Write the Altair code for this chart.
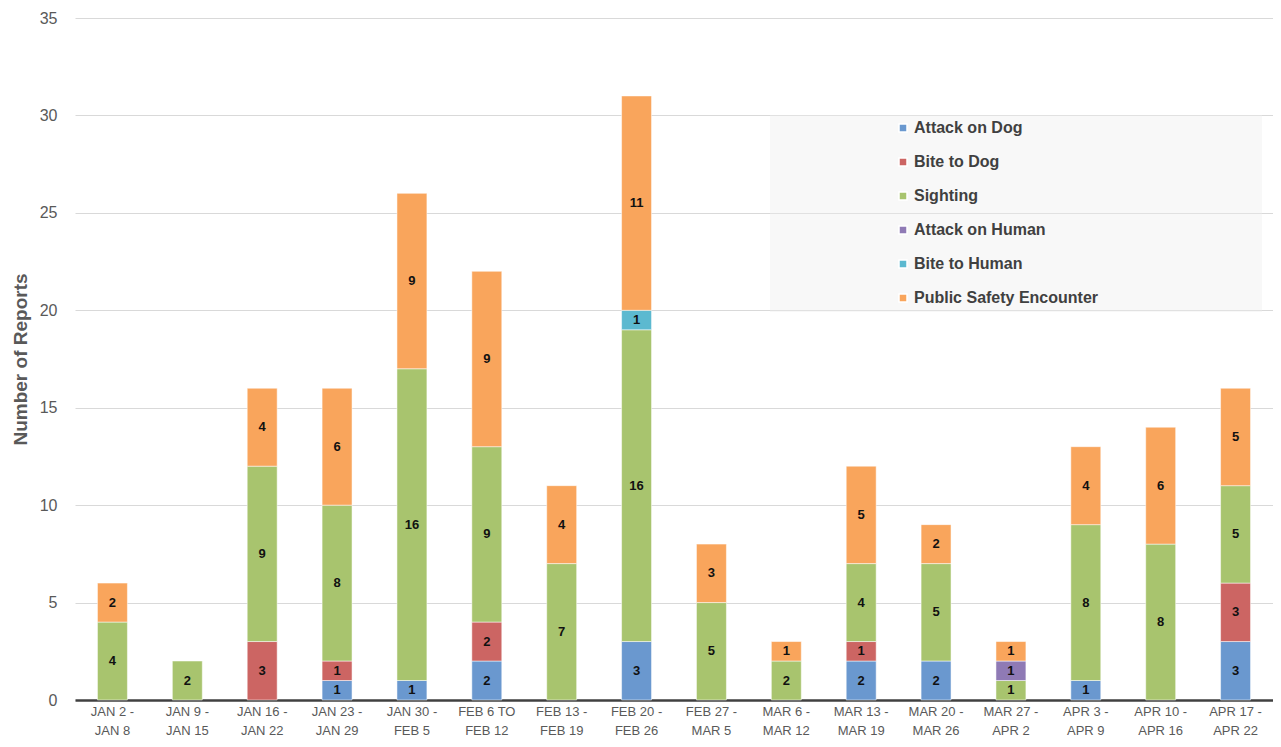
import altair as alt
import pandas as pd

weeks = ["JAN 2 -|JAN 8", "JAN 9 -|JAN 15", "JAN 16 -|JAN 22", "JAN 23 -|JAN 29",
         "JAN 30 -|FEB 5", "FEB 6 TO|FEB 12", "FEB 13 -|FEB 19", "FEB 20 -|FEB 26",
         "FEB 27 -|MAR 5", "MAR 6 -|MAR 12", "MAR 13 -|MAR 19", "MAR 20 -|MAR 26",
         "MAR 27 -|APR 2", "APR 3 -|APR 9", "APR 10 -|APR 16", "APR 17 -|APR 22"]

categories = ["Attack on Dog", "Bite to Dog", "Sighting", "Attack on Human",
              "Bite to Human", "Public Safety Encounter"]
colors = ["#6a98cf", "#cc6563", "#a8c46e", "#8f7ab5", "#5cb9d0", "#f9a55c"]

attack_on_dog = [0, 0, 0, 1, 1, 2, 0, 3, 0, 0, 2, 2, 0, 1, 0, 3]
bite_to_dog = [0, 0, 3, 1, 0, 2, 0, 0, 0, 0, 1, 0, 0, 0, 0, 3]
sighting = [4, 2, 9, 8, 16, 9, 7, 16, 5, 2, 4, 5, 1, 8, 8, 5]
attack_on_human = [0, 0, 0, 0, 0, 0, 0, 0, 0, 0, 0, 0, 1, 0, 0, 0]
bite_to_human = [0, 0, 0, 0, 0, 0, 0, 1, 0, 0, 0, 0, 0, 0, 0, 0]
public_safety = [2, 0, 4, 6, 9, 9, 4, 11, 3, 1, 5, 2, 1, 4, 6, 5]

series = [attack_on_dog, bite_to_dog, sighting, attack_on_human, bite_to_human, public_safety]

rows = []
for ci, (cat, vals) in enumerate(zip(categories, series)):
    for w, v in zip(weeks, vals):
        rows.append({"week": w, "category": cat, "idx": ci, "value": v})
df = pd.DataFrame(rows)

FONT = "Liberation Sans"

base = alt.Chart(df).transform_filter(
    alt.datum.value > 0
).transform_stack(
    stack="value", groupby=["week"], as_=["v0", "v1"],
    sort=[alt.SortField("idx", order="ascending")]
).transform_calculate(
    mid="(datum.v0 + datum.v1) / 2"
)

xenc = alt.X("week:N", sort=weeks, title=None,
             scale=alt.Scale(paddingInner=0.6, paddingOuter=0.3),
             axis=alt.Axis(labelExpr="split(datum.label, '|')", labelAngle=0,
                           labelFont=FONT, labelFontSize=13, labelColor="#595959",
                           labelLineHeight=19, labelPadding=5, ticks=False,
                           domainColor="#404040", domainWidth=2.5, grid=False))

bars = base.mark_bar(stroke="white", strokeWidth=1, strokeOpacity=0.5).encode(
    x=xenc,
    y=alt.Y("v0:Q", title="Number of Reports",
            scale=alt.Scale(domain=[0, 35], nice=False),
            axis=alt.Axis(values=[0, 5, 10, 15, 20, 25, 30, 35], labelFont=FONT,
                          labelFontSize=16, labelColor="#595959", labelPadding=18,
                          ticks=False, domain=False, gridColor="#d9d9d9", gridWidth=1,
                          titleFont=FONT, titleFontSize=19, titleFontWeight="bold",
                          titleColor="#595959", titlePadding=9)),
    y2="v1:Q",
    color=alt.Color("category:N", sort=categories, title=None,
                    scale=alt.Scale(domain=categories, range=colors),
                    legend=alt.Legend(orient="none", legendX=820, legendY=102,
                                      symbolType="square", symbolSize=64,
                                      labelFont=FONT, labelFontSize=16,
                                      labelFontWeight="bold", labelColor="#404040",
                                      labelLimit=400,
                                      rowPadding=18, padding=0, labelOffset=3)),
)

labels = base.mark_text(font=FONT, fontSize=13, fontWeight="bold", color="#111111").encode(
    x=alt.X("week:N", sort=weeks),
    y=alt.Y("mid:Q"),
    text=alt.Text("value:Q"),
)

legend_bg = alt.Chart(pd.DataFrame({"a": [0]})).mark_rect(
    color="#eeeeee", opacity=0.4
).encode(x=alt.value(695), x2=alt.value(1187), y=alt.value(97), y2=alt.value(294))

chart = alt.layer(legend_bg, bars, labels).properties(
    width=1198, height=682,
    padding={"left": 67, "top": 10, "right": 0, "bottom": 39},
    autosize=alt.AutoSizeParams(type="none"),
).configure_view(stroke=None)

chart.save("out.html", embed_options={"renderer": "svg", "actions": False})
